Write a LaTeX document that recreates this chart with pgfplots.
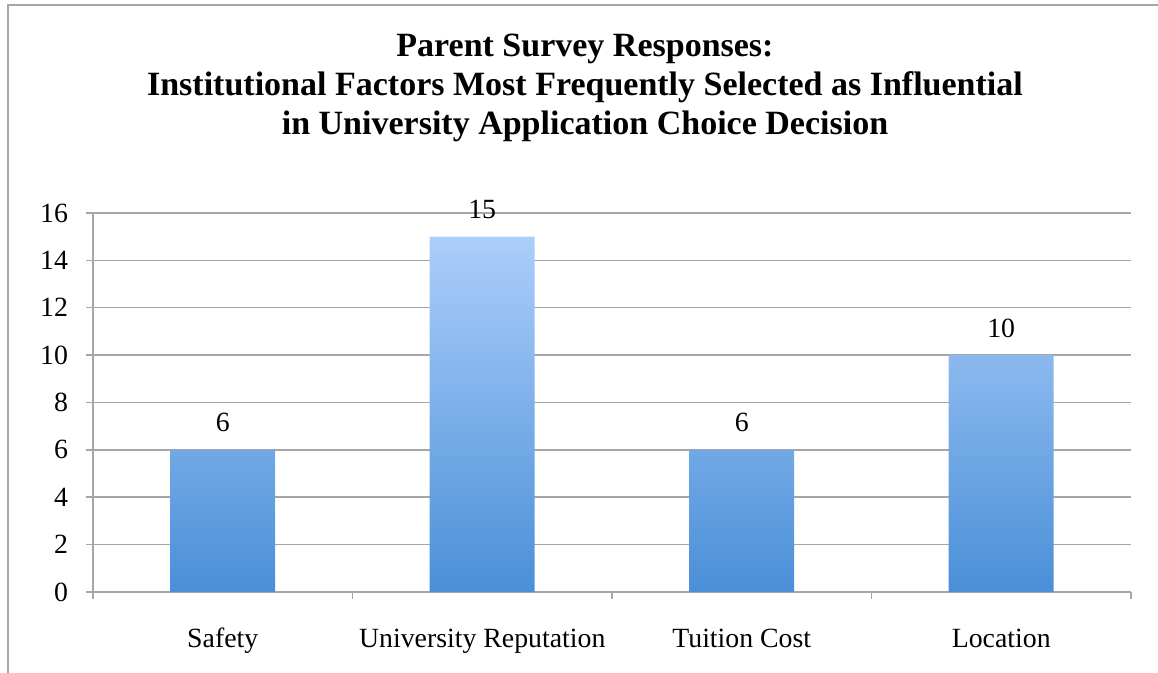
\documentclass[border=0pt]{standalone}
\usepackage{pgfplots}
\pgfplotsset{compat=1.18}
\usepackage{fontspec}
\setmainfont{Liberation Serif}
\definecolor{gridgray}{RGB}{166,166,166}
\definecolor{bartop}{RGB}{172,206,250}
\definecolor{barbot}{RGB}{74,143,216}
\begin{document}
\begin{tikzpicture}
\begin{axis}[
  scale only axis, width=519pt, height=189.5pt,
  at={(0,0)}, anchor=south west,
  xmin=-0.5, xmax=3.5, ymin=0, ymax=16,
  axis x line*=bottom, axis y line*=left,
  axis line style={gridgray, line width=0.75pt, -},
  xtick={-0.5,0.5,1.5,2.5,3.5},
  xticklabels={{},{},{},{},{}},
  extra x ticks={0,1,2,3},
  extra x tick labels={Safety, University Reputation, Tuition Cost, Location},
  extra x tick style={major tick length=0pt, tick style={draw=none}},
  ytick={0,2,...,16},
  ymajorgrids,
  grid style={gridgray, line width=0.75pt},
  tick style={gridgray, line width=0.75pt},
  tick align=outside,
  major tick length=3.5pt,
  /pgf/number format/assume math mode=true,
  tick label style={font=\fontsize{13.9}{16}\selectfont, text=black},
  xticklabel style={anchor=base, yshift=-28pt},
  yticklabel style={anchor=east, xshift=-5.5pt},
]
\addplot[ybar, bar width=52.5pt, draw=none, top color=bartop, bottom color=barbot,
  nodes near coords,
  nodes near coords style={text=black, anchor=base, yshift=9pt, font=\fontsize{13.9}{16}\selectfont, /pgf/number format/assume math mode=true}]
  coordinates {(0,6) (1,15) (2,6) (3,10)};
\end{axis}
\node[anchor=base, font=\fontsize{17}{19.5}\selectfont\bfseries] at (246pt,267.5pt) {Parent Survey Responses:};
\node[anchor=base, font=\fontsize{17}{19.5}\selectfont\bfseries] at (246pt,248pt) {Institutional Factors Most Frequently Selected as Influential};
\node[anchor=base, font=\fontsize{17}{19.5}\selectfont\bfseries] at (246pt,228.5pt) {in University Application Choice Decision};
\draw[gridgray, line width=0.75pt] (-42.5pt,-60pt) -- (-42.5pt,293.5pt) -- (600pt,293.5pt);
\pgfresetboundingbox
\useasboundingbox (-46.5pt,-40.5pt) rectangle (532.5pt,296pt);
\end{tikzpicture}
\end{document}
